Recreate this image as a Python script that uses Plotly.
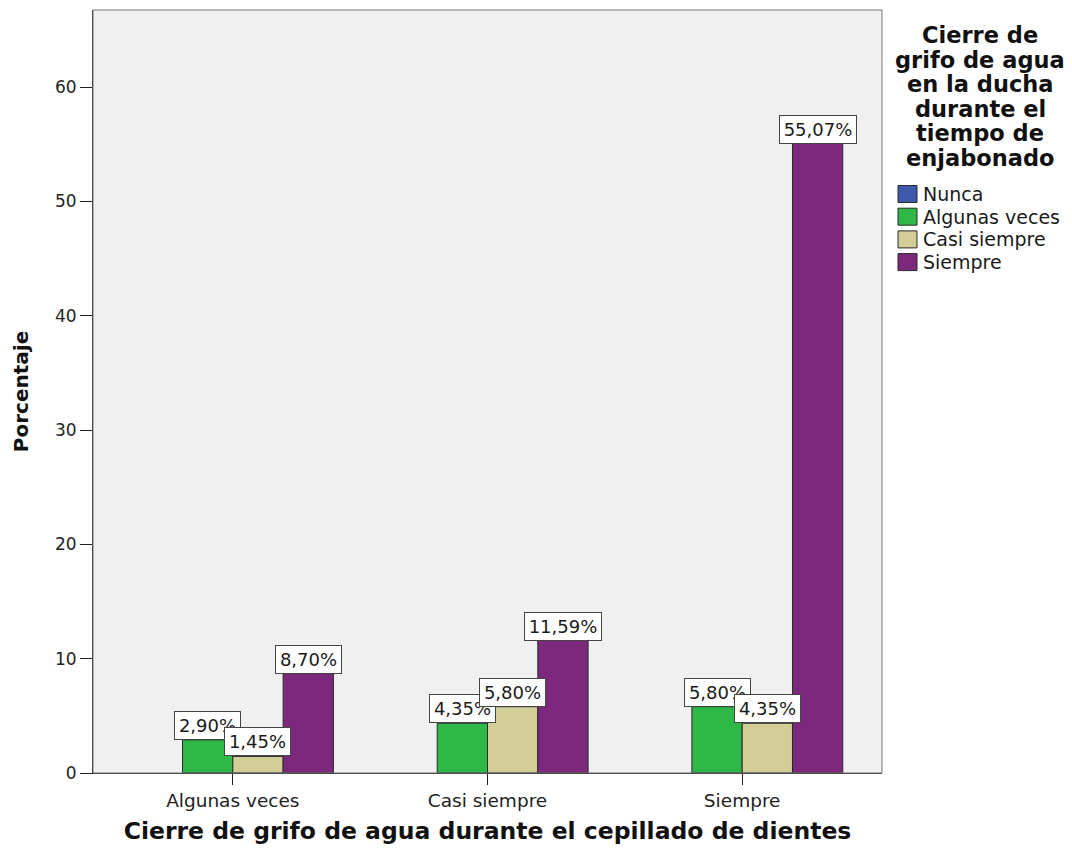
import plotly.graph_objects as go

# Categories on the x axis (tooth-brushing tap closing)
categories = ["Algunas veces", "Casi siempre", "Siempre"]

# Series: shower tap closing while soaping (percent)
series_names = ["Nunca", "Algunas veces", "Casi siempre", "Siempre"]
nunca = [None, None, None]
algunas_veces = [2.90, 4.35, 5.80]
casi_siempre = [1.45, 5.80, 4.35]
siempre = [8.70, 11.59, 55.07]

y_ticks = [0, 10, 20, 30, 40, 50, 60]

legend_title_lines = ["Cierre de", "grifo de agua", "en la ducha",
                      "durante el", "tiempo de", "enjabonado"]
x_title = "Cierre de grifo de agua durante el cepillado de dientes"
y_title = "Porcentaje"

colors = ["#3E58AC", "#2EB848", "#D3CE97", "#7C287D"]
series_values = [nunca, algunas_veces, casi_siempre, siempre]

W, H = 1072, 850
M_L, M_R, M_T, M_B = 93, 190, 10, 77
PW, PH = W - M_L - M_R, H - M_T - M_B
BARGAP = 0.21
Y_MAX = 66.75

def px_x(px):
    return (px - M_L) / PW

def px_y(py):
    return (H - M_B - py) / PH

fig = go.Figure()
for name, vals, col in zip(series_names, series_values, colors):
    fig.add_trace(go.Bar(
        x=list(range(len(categories))), y=vals, name=name,
        marker=dict(color=col, line=dict(color="#2a2a2a", width=1)),
        showlegend=False, hoverinfo="skip",
    ))

# Value labels in boxes above each bar
n = len(series_names)
bw = (1 - BARGAP) / n
annotations = []
for i, vals in enumerate(series_values):
    for k, v in enumerate(vals):
        if v is None:
            continue
        xc = k - (1 - BARGAP) / 2 + bw * (i + 0.5)
        label = f"{v:.2f}%".replace(".", ",")
        annotations.append(dict(
            x=xc, y=v, xref="x", yref="y", text=label, showarrow=False,
            yanchor="bottom", xanchor="center", width=11 * len(label) + 4,
            font=dict(family="DejaVu Sans", size=18, color="#1a1a1a"),
            bgcolor="white", bordercolor="#444444", borderwidth=1, borderpad=3,
        ))

# Legend title, one line per annotation
for j, line in enumerate(legend_title_lines):
    annotations.append(dict(
        x=px_x(980), y=px_y(35 + j * 24.6), xref="paper", yref="paper",
        text=f"<b>{line}</b>", showarrow=False, xanchor="center", yanchor="middle",
        font=dict(family="DejaVu Sans", size=22.5, color="#111111"),
    ))

# Legend entries
shapes = []
for j, (name, col) in enumerate(zip(series_names, colors)):
    cy = 194 + j * 22.7
    shapes.append(dict(
        type="rect", xref="paper", yref="paper",
        x0=px_x(898), x1=px_x(917), y0=px_y(cy - 8.5), y1=px_y(cy + 8.5),
        fillcolor=col, line=dict(color="#2a2a2a", width=1),
    ))
    annotations.append(dict(
        x=px_x(921), y=px_y(cy), xref="paper", yref="paper", text=name,
        showarrow=False, xanchor="left", yanchor="middle",
        font=dict(family="DejaVu Sans", size=19, color="#1a1a1a"),
    ))

# Plot frame
shapes.append(dict(
    type="rect", xref="paper", yref="paper", x0=0, x1=1, y0=0, y1=1,
    line=dict(color="#777777", width=1), fillcolor="rgba(0,0,0,0)", layer="above",
))

fig.update_layout(
    width=W, height=H,
    margin=dict(l=M_L, r=M_R, t=M_T, b=M_B),
    paper_bgcolor="white", plot_bgcolor="#F0F0F0",
    barmode="group", bargap=BARGAP, bargroupgap=0,
    annotations=annotations, shapes=shapes,
    font=dict(family="DejaVu Sans", color="#222222"),
)
fig.update_xaxes(
    range=[-0.549, len(categories) - 0.451],
    tickmode="array", tickvals=list(range(len(categories))), ticktext=categories,
    ticks="outside", ticklen=11, tickcolor="#222222",
    tickfont=dict(family="DejaVu Sans", size=18.5, color="#222222"),
    showline=True, linecolor="#222222", linewidth=1, showgrid=False, zeroline=False,
    title=dict(text=f"<b>{x_title}</b>", standoff=12,
               font=dict(family="DejaVu Sans", size=23.5, color="#111111")),
)
fig.update_yaxes(
    range=[0, Y_MAX], tickmode="array", tickvals=y_ticks,
    ticks="outside", ticklen=12, tickcolor="#222222",
    tickfont=dict(family="DejaVu Sans", size=17, color="#222222"),
    showline=True, linecolor="#222222", linewidth=1, showgrid=False, zeroline=False,
    title=dict(text=f"<b>{y_title}</b>", standoff=20,
               font=dict(family="DejaVu Sans", size=20, color="#111111")),
)

fig.write_html("out.html")
